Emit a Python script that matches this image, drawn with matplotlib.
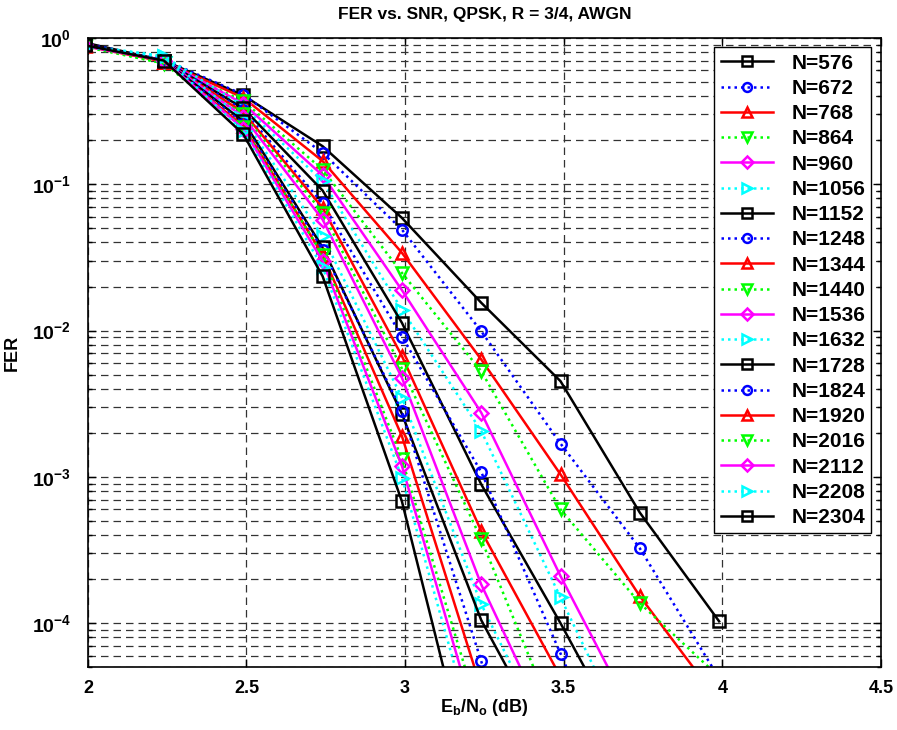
import matplotlib
matplotlib.use("Agg")
import matplotlib.pyplot as plt
from matplotlib.ticker import LogLocator, NullFormatter

plt.rcParams['font.family'] = ['Liberation Sans', 'DejaVu Sans']
plt.rcParams['font.weight'] = 'bold'
plt.rcParams['mathtext.fontset'] = 'custom'
plt.rcParams['mathtext.rm'] = 'Liberation Sans:bold'
plt.rcParams['mathtext.it'] = 'Liberation Sans:bold'
plt.rcParams['mathtext.bf'] = 'Liberation Sans:bold'

# Eb/No points (dB)
ebno = [1.99, 2.24, 2.49, 2.74, 2.99, 3.24, 3.49, 3.74, 3.99]

# FER per block length
fer_576 = [0.93, 0.70, 0.405, 0.182, 0.0589, 0.0155, 0.00451, 0.00057, 0.000103]
fer_672 = [0.92, 0.71, 0.41, 0.164, 0.049, 0.0099, 0.00169, 0.000325, 4.2e-5]
fer_768 = [0.91, 0.69, 0.39, 0.144, 0.034, 0.00635, 0.00104, 0.000153, 2.9e-5]
fer_864 = [0.89, 0.67, 0.37, 0.126, 0.0248, 0.00528, 0.0006, 0.000137, 4.3e-5]
fer_960 = [0.90, 0.70, 0.355, 0.115, 0.0189, 0.00275, 0.00021, 1.9e-5]
fer_1056 = [0.89, 0.75, 0.34, 0.105, 0.0139, 0.00206, 0.00015, 1.1e-5]
fer_1152 = [0.91, 0.70, 0.33, 0.0906, 0.0113, 0.00089, 0.0001, 1.0e-5]
fer_1248 = [0.90, 0.71, 0.32, 0.074, 0.0091, 0.00108, 6.2e-5, 3.5e-6]
fer_1344 = [0.89, 0.69, 0.31, 0.069, 0.0067, 0.000427, 4.3e-5]
fer_1440 = [0.88, 0.67, 0.30, 0.064, 0.0055, 0.000374, 1.77e-5]
fer_1536 = [0.89, 0.70, 0.29, 0.0574, 0.00476, 0.000184, 1.3e-5]
fer_1632 = [0.88, 0.75, 0.28, 0.0442, 0.00348, 0.000135, 1.06e-5]
fer_1728 = [0.90, 0.70, 0.27, 0.037, 0.0027, 0.000105, 1.05e-5]
fer_1824 = [0.89, 0.71, 0.26, 0.0358, 0.0028, 5.5e-5, 1e-6]
fer_1920 = [0.88, 0.69, 0.25, 0.033, 0.0019, 3.56e-5]
fer_2016 = [0.87, 0.67, 0.245, 0.033, 0.00132, 2.15e-5]
fer_2112 = [0.88, 0.70, 0.24, 0.0298, 0.00119, 1.6e-5]
fer_2208 = [0.87, 0.74, 0.23, 0.027, 0.00099, 1.16e-5]
fer_2304 = [0.89, 0.70, 0.22, 0.0235, 0.00068, 4.6e-6]

block_lengths = [576, 672, 768, 864, 960, 1056, 1152, 1248, 1344, 1440,
                 1536, 1632, 1728, 1824, 1920, 2016, 2112, 2208, 2304]
fer_curves = [fer_576, fer_672, fer_768, fer_864, fer_960, fer_1056, fer_1152,
              fer_1248, fer_1344, fer_1440, fer_1536, fer_1632, fer_1728,
              fer_1824, fer_1920, fer_2016, fer_2112, fer_2208, fer_2304]

# matlab-like style cycle
colors = ['k', '#0000ff', '#ff0000', '#00ff00', '#ff00ff', '#00ffff']
markers = ['s', 'o', '^', 'v', 'D', '>']
styles = ['-', (0, (1, 1.6)), '-', (0, (1, 1.6)), '-', (0, (1, 1.6))]
msizes = [9, 7.5, 9, 9, 7, 9]

fig = plt.figure(figsize=(8.97, 7.3), dpi=100)
ax = fig.add_axes([0.098, 0.086, 0.884, 0.862])

for i, (n, fer) in enumerate(zip(block_lengths, fer_curves)):
    k = i % 6
    ax.semilogy(ebno[:len(fer)], fer, color=colors[k], linestyle=styles[k],
                linewidth=1.8, marker=markers[k], markersize=msizes[k],
                markerfacecolor='none', markeredgewidth=1.8,
                label='N=%d' % n)

ax.set_xlim(2, 4.5)
ax.set_ylim(5e-5, 1)
ax.set_xticks([2, 2.5, 3, 3.5, 4, 4.5])
ax.set_xticklabels(['2', '2.5', '3', '3.5', '4', '4.5'])
ax.yaxis.set_major_locator(LogLocator(base=10, numticks=10))
ax.yaxis.set_minor_locator(LogLocator(base=10, subs=range(2, 10), numticks=20))
ax.yaxis.set_minor_formatter(NullFormatter())

ax.grid(True, which='major', color='#333333', linestyle=(0, (6, 4)), linewidth=0.9)
ax.grid(True, which='minor', axis='y', color='#333333', linestyle=(0, (6, 4)), linewidth=0.9)

ax.tick_params(which='both', direction='in', top=True, right=True, width=1)
ax.tick_params(axis='x', labelsize=13, pad=9)
ax.tick_params(axis='y', labelsize=14, pad=12)
ax.tick_params(which='major', length=6)
ax.tick_params(which='minor', length=3)
for lab in ax.get_xticklabels() + ax.get_yticklabels():
    lab.set_fontweight('bold')
for sp in ax.spines.values():
    sp.set_linewidth(1.2)

ax.set_xlabel(r'$E_b/N_o$ (dB)', fontsize=13, fontweight='bold', labelpad=0)
ax.set_ylabel('FER', fontsize=13, fontweight='bold', labelpad=8)
ax.set_title('FER vs. SNR, QPSK, R = 3/4, AWGN', fontsize=12.5, fontweight='bold', pad=14)

leg = ax.legend(loc='upper right', fontsize=15, frameon=True, fancybox=False,
                edgecolor='k', framealpha=1, handlelength=2.5, handletextpad=0.9,
                labelspacing=0.3, borderaxespad=0.45, borderpad=0.3,
                markerscale=0.85)
leg.get_frame().set_linewidth(1)
for t in leg.get_texts():
    t.set_fontweight('bold')

fig.savefig('out.png', dpi=100)
